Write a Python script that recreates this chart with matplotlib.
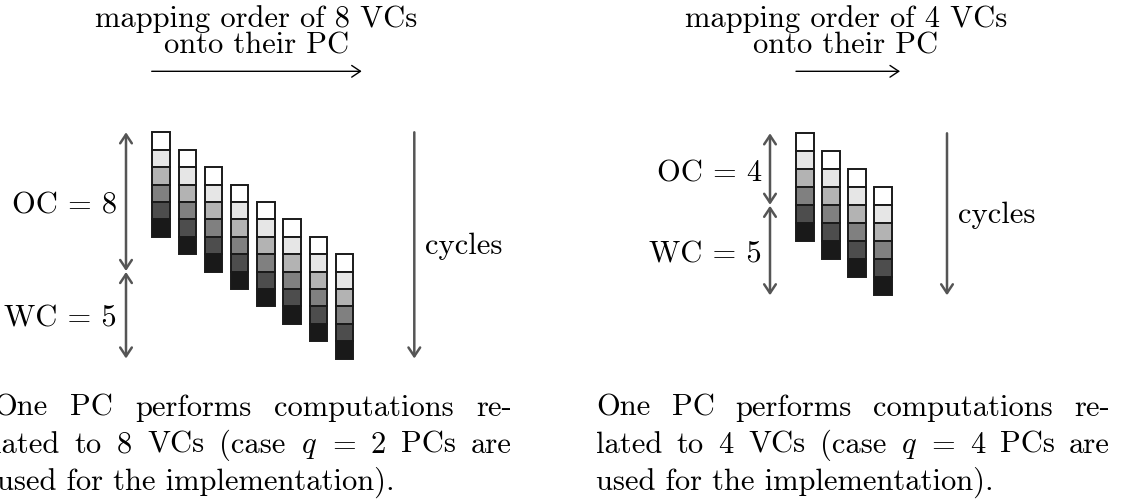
import matplotlib
matplotlib.use('Agg')
import matplotlib.pyplot as plt
from matplotlib.patches import Rectangle, FancyArrowPatch

plt.rcParams['font.family'] = 'cmr10'
plt.rcParams['mathtext.fontset'] = 'cm'
plt.rcParams['axes.unicode_minus'] = False

# ---- data ----
vc_counts = [8, 4]
oc_values = [8, 4]
wc_values = [5, 5]
shade_percent_black = [0, 10, 30, 50, 70, 90]
title_lines = [["mapping order of 8 VCs", "onto their PC"],
               ["mapping order of 4 VCs", "onto their PC"]]
caption_lines = [
    ["One PC performs computations re-",
     "lated to 8 VCs (case $q$ = 2 PCs are",
     "used for the implementation)."],
    ["One PC performs computations re-",
     "lated to 4 VCs (case $q$ = 4 PCs are",
     "used for the implementation)."],
]
cycles_label = "cycles"

# ---- layout (pixels) ----
panels = [
    dict(x0=152.3, top=133.3, cell=17.4, dx=26.2, arrow_x=126, cyc_x=414.3,
         label_right=117, title_cx=256.5, tarrow=(151.7, 361.7), cap=(-7, 512)),
    dict(x0=795.7, top=134.3, cell=18.0, dx=26.2, arrow_x=770, cyc_x=947,
         label_right=762, title_cx=846, tarrow=(796, 900), cap=(596, 1110)),
]
FS = 22
W, H = 1124, 502

fig = plt.figure(figsize=(W / 100, H / 100), dpi=100)
ax = fig.add_axes([0, 0, 1, 1])
ax.set_xlim(0, W)
ax.set_ylim(H, 0)
ax.axis('off')
renderer = fig.canvas.get_renderer()


def varrow(x, y0, y1, style, color='#555555', lw=1.8):
    a = FancyArrowPatch((x, y0), (x, y1), arrowstyle=style, mutation_scale=14,
                        color=color, lw=lw, shrinkA=0, shrinkB=0)
    ax.add_patch(a)


def justify(words, x0, x1, y):
    texts = [ax.text(0, y, w, fontsize=FS, va='baseline', ha='left') for w in words]
    widths = [t.get_window_extent(renderer).width for t in texts]
    gap = (x1 - x0 - sum(widths)) / (len(words) - 1)
    x = x0
    for t, w in zip(texts, widths):
        t.set_x(x)
        x += w + gap


for p, n, oc, wc, tl, cl in zip(panels, vc_counts, oc_values, wc_values,
                                 title_lines, caption_lines):
    c = p['cell']
    # columns of cells
    for j in range(n):
        x = p['x0'] + j * p['dx']
        for k, pct in enumerate(shade_percent_black):
            y = p['top'] + (j + k) * c
            g = 1 - pct / 100
            ax.add_patch(Rectangle((x, y), c, c, facecolor=(g, g, g),
                                   edgecolor='#1a1a1a', lw=1.4))
    # OC / WC arrows
    y_oc0 = p['top']
    y_oc1 = p['top'] + oc * c
    y_wc1 = y_oc1 + wc * c
    varrow(p['arrow_x'], y_oc0, y_oc1 - 0.5, '<->,head_length=0.45,head_width=0.3')
    varrow(p['arrow_x'], y_oc1 + 0.5, y_wc1, '<->,head_length=0.45,head_width=0.3')
    ax.text(p['label_right'], (y_oc0 + y_oc1) / 2 + 11, f"OC = {oc}", fontsize=FS,
            ha='right', va='baseline')
    ax.text(p['label_right'], (y_oc1 + y_wc1) / 2 + 11, f"WC = {wc}", fontsize=FS,
            ha='right', va='baseline')
    # cycles arrow
    varrow(p['cyc_x'], y_oc0, y_wc1, '->,head_length=0.45,head_width=0.3')
    ax.text(p['cyc_x'] + 11, (y_oc0 + y_wc1) / 2 + 7.5, cycles_label, fontsize=FS,
            ha='left', va='baseline')
    # title and arrow
    ax.text(p['title_cx'], 26.7, tl[0], fontsize=FS, ha='center', va='baseline')
    ax.text(p['title_cx'], 53.3, tl[1], fontsize=FS, ha='center', va='baseline')
    ta = FancyArrowPatch((p['tarrow'][0], 72.3), (p['tarrow'][1], 72.3),
                         arrowstyle='->,head_length=0.45,head_width=0.3',
                         mutation_scale=14, color='black', lw=1.0,
                         shrinkA=0, shrinkB=0)
    ax.add_patch(ta)
    # caption (justified)
    x0, x1 = p['cap']
    base = [416, 453, 490]
    justify(cl[0].split(' '), x0, x1, base[0])
    justify(cl[1].split(' '), x0, x1, base[1])
    ax.text(x0 + (4 if x0 < 0 else 0), base[2], cl[2], fontsize=FS, ha='left',
            va='baseline')

fig.savefig('out.png', dpi=100)
